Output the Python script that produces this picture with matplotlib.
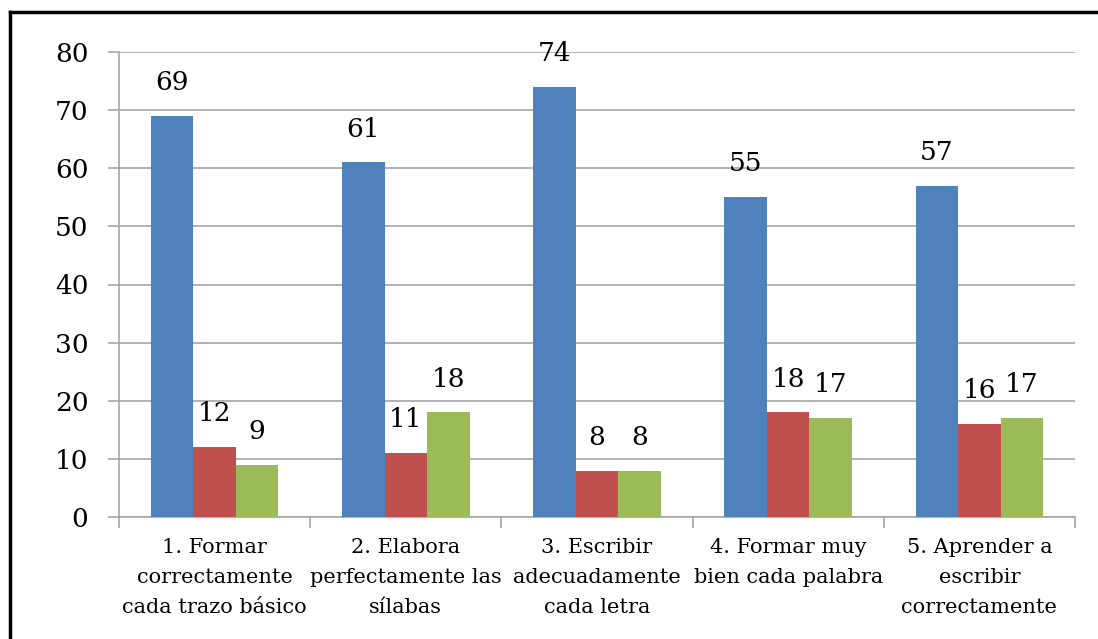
import numpy as np
import matplotlib.pyplot as plt
from matplotlib.lines import Line2D

plt.rc('font', family='DejaVu Serif')

categories = [
    '1. Formar\ncorrectamente\ncada trazo básico',
    '2. Elabora\nperfectamente las\nsílabas',
    '3. Escribir\nadecuadamente\ncada letra',
    '4. Formar muy\nbien cada palabra',
    '5. Aprender a\nescribir\ncorrectamente',
]
serie_a = [69, 61, 74, 55, 57]
serie_b = [12, 11, 8, 18, 16]
serie_c = [9, 18, 8, 17, 17]

colors = ['#4f81bd', '#c0504d', '#9bbb59']
grid_color = '#a6a6a6'

fig = plt.figure(figsize=(10.98, 6.39), dpi=100)
ax = fig.add_axes([119 / 1098, 1 - 517 / 639, (1075 - 119) / 1098, (517 - 52) / 639])

x = np.arange(len(categories))
w = 1 / 4.5
for i, (vals, c) in enumerate(zip([serie_a, serie_b, serie_c], colors)):
    pos = x + (i - 1) * w
    ax.bar(pos, vals, width=w, color=c, zorder=3)
    for p, v in zip(pos, vals):
        ax.annotate(str(v), (p, v), xytext=(0, 24), textcoords='offset points',
                    ha='center', va='center', fontsize=19)

ax.set_xlim(-0.5, len(categories) - 0.5)
ax.set_ylim(0, 80)
ax.set_yticks(np.arange(0, 81, 10))
ax.yaxis.grid(True, color=grid_color, lw=1.2, zorder=0)
ax.tick_params(axis='y', length=8, width=1.2, color=grid_color, labelsize=19, pad=14)

# category ticks sit on the group boundaries
ax.set_xticks(np.arange(-0.5, len(categories)), minor=False)
ax.set_xticklabels([])
ax.set_xticks(x, minor=True)
ax.set_xticklabels(categories, minor=True, fontsize=15, linespacing=1.75)
ax.tick_params(axis='x', which='minor', length=0, pad=15)
ax.tick_params(axis='x', which='major', length=8, width=1.2, color=grid_color)

for s in ['top', 'right']:
    ax.spines[s].set_visible(False)
for s in ['left', 'bottom']:
    ax.spines[s].set_color(grid_color)
    ax.spines[s].set_linewidth(1.2)

# black frame along top and left edge
fig.add_artist(Line2D([10 / 1098, 10 / 1098], [0, 1 - 12 / 639], color='black', lw=2.5,
                      transform=fig.transFigure))
fig.add_artist(Line2D([10 / 1098, 1], [1 - 12 / 639, 1 - 12 / 639], color='black', lw=2.5,
                      transform=fig.transFigure))

fig.savefig('out.png', dpi=100)
